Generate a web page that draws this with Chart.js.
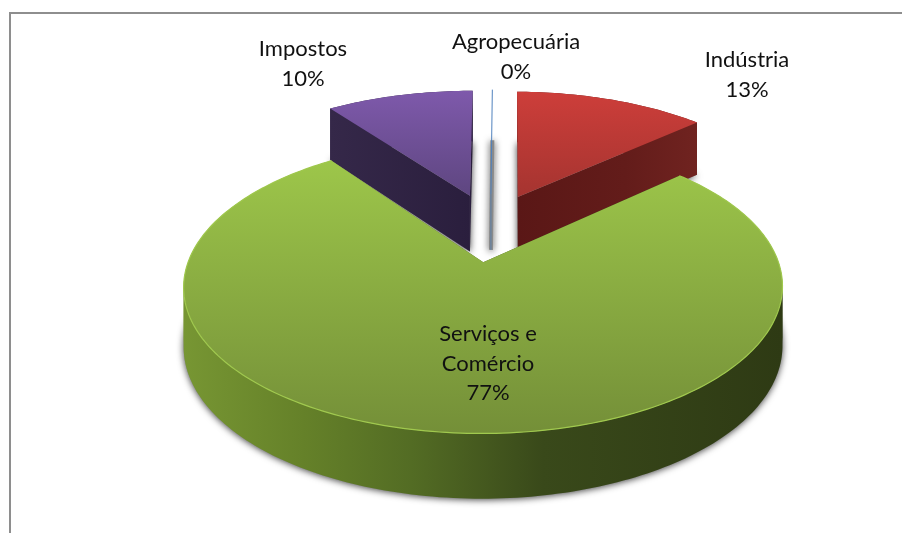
<!DOCTYPE html>
<html><head><meta charset="utf-8">
<script src="https://cdn.jsdelivr.net/npm/chart.js@4"></script>
<style>
html,body{margin:0;padding:0;background:#fff;overflow:hidden}
#frame{position:absolute;left:9px;top:12px;width:893px;height:521px;border-left:2px solid #8e8e8e;border-top:2px solid #8e8e8e;box-sizing:border-box}
canvas{position:absolute;left:0;top:0}
</style></head><body>
<div id="frame"></div>
<canvas id="c" width="902" height="533"></canvas>
<script>
const categories=['Agropecuária','Indústria','Serviços e Comércio','Impostos'];
const values=[0.2,13,77,10];
const labelLines=[['Agropecuária'],['Indústria'],['Serviços e','Comércio'],['Impostos']];
const labelCentres=[[516,42],[747,60],[488,334],[303,49]];
const topColours=[['#4f81bd','#4f81bd'],['#cd3e3a','#a53430'],['#9dc64a','#748f38'],['#7e59ab','#5e4680']];
const wallStops=[
 [[0,'#5b7fa8'],[1,'#5b7fa8']],
 [[0,'#5a1716'],[0.6,'#631c1a'],[1,'#702320']],
 [[0,'#779633'],[0.2,'#658129'],[0.38,'#536c24'],[0.6,'#39491a'],[1,'#2e3a14']],
 [[0,'#352849'],[1,'#2a1e3d']]
];
const view={cx:490.5,cy:227,A:283,B:131,k:0.16,kd:0.1,depth:57,explodeX:0.245,explodeY:0.26};

function project(X,Y,z){
 const w=1+view.k*Y;
 return [view.cx+view.A*X/w, view.cy-view.B*Y/w+z*view.depth/(1+view.kd*Y)];
}
function outline(el){
 const s=el.startAngle+Math.PI/2,e=el.endAngle+Math.PI/2,m=(s+e)/2;
 const ox=view.explodeX*Math.sin(m),oy=view.explodeY*Math.cos(m);
 const pts=[[ox,oy]];
 const n=Math.max(2,Math.ceil((e-s)/0.02));
 for(let i=0;i<=n;i++){const t=s+(e-s)*i/n;pts.push([ox+Math.sin(t),oy+Math.cos(t)]);}
 return pts;
}
function polygon(ctx,qs){
 ctx.beginPath();
 qs.forEach((q,i)=>i?ctx.lineTo(q[0],q[1]):ctx.moveTo(q[0],q[1]));
 ctx.closePath();
}
function at(pts,z){return pts.map(p=>project(p[0],p[1],z));}
function midLine(el,z){
 const m=(el.startAngle+el.endAngle)/2+Math.PI/2;
 const ox=view.explodeX*Math.sin(m),oy=view.explodeY*Math.cos(m);
 const a=project(ox,oy,z),b=project(ox+Math.sin(m),oy+Math.cos(m),z);
 return [a,b];
}
function fillBand(ctx,top,bottom){
 // split the curved wall at its leftmost and rightmost points so it never folds over itself
 const xs=top.map(q=>q[0]);
 const cuts=[0,xs.indexOf(Math.min(...xs)),xs.indexOf(Math.max(...xs)),top.length-1].sort((a,b)=>a-b);
 for(let c=0;c<cuts.length-1;c++){
  if(cuts[c+1]<=cuts[c])continue;
  polygon(ctx,top.slice(cuts[c],cuts[c+1]+1).concat(bottom.slice(cuts[c],cuts[c+1]+1).reverse()));
  ctx.fill();
 }
}
const pie3d={
 id:'pie3d',
 beforeDatasetsDraw(chart){
  const ctx=chart.ctx,arcs=chart.getDatasetMeta(0).data,paths=arcs.map(outline);
  ctx.save();
  ctx.shadowColor='rgba(0,0,0,0.75)';ctx.shadowBlur=7;ctx.shadowOffsetY=1;
  paths.forEach((p,i)=>{
   ctx.fillStyle='#8a8a8a';ctx.strokeStyle='#8a8a8a';
   if(i===0){
    const l=midLine(arcs[0],1);
    ctx.lineWidth=4;ctx.beginPath();ctx.moveTo(l[0][0],l[0][1]);ctx.lineTo(l[1][0],l[1][1]);ctx.stroke();
   }else{polygon(ctx,at(p,1));ctx.fill();}
  });
  ctx.shadowColor='transparent';ctx.shadowBlur=0;ctx.shadowOffsetY=0;
  [3,1,0,2].forEach(i=>{
   const p=paths[i];
   if(i===0){
    const l=midLine(arcs[0],0),f=midLine(arcs[0],1);
    ctx.strokeStyle='#5b7fa8';ctx.lineWidth=1;
    ctx.beginPath();ctx.moveTo(l[0][0],l[0][1]);ctx.lineTo(f[0][0],f[0][1]);ctx.stroke();
    ctx.strokeStyle='#4f81bd';
    ctx.beginPath();ctx.moveTo(l[0][0],l[0][1]);ctx.lineTo(l[1][0],l[1][1]);ctx.stroke();
    return;
   }
   const t0=at(p,0),t1=at(p,1);
   const xs=t0.map(q=>q[0]);
   const wg=ctx.createLinearGradient(Math.min(...xs),0,Math.max(...xs),0);
   wallStops[i].forEach(s=>wg.addColorStop(s[0],s[1]));
   ctx.fillStyle=wg;
   const last=p.length-1;
   polygon(ctx,[t0[0],t0[1],t1[1],t1[0]]);ctx.fill();
   polygon(ctx,[t0[0],t0[last],t1[last],t1[0]]);ctx.fill();
   fillBand(ctx,t0.slice(1),t1.slice(1));
   const ys=t0.map(q=>q[1]);
   const tg=ctx.createLinearGradient(0,Math.min(...ys),0,Math.max(...ys));
   tg.addColorStop(0,topColours[i][0]);tg.addColorStop(1,topColours[i][1]);
   polygon(ctx,t0);ctx.fillStyle=tg;ctx.fill();
   if(i===2){
    ctx.strokeStyle='#a0c94e';ctx.lineWidth=1.2;ctx.beginPath();
    t0.slice(1).forEach((q,j)=>j?ctx.lineTo(q[0],q[1]):ctx.moveTo(q[0],q[1]));
    ctx.stroke();
   }
  });
  ctx.restore();
  return false;
 },
 afterDraw(chart){
  const ctx=chart.ctx,total=values.reduce((a,b)=>a+b,0);
  ctx.save();
  ctx.font='22px Lato';ctx.fillStyle='#111';ctx.textAlign='center';ctx.textBaseline='middle';
  categories.forEach((c,i)=>{
   const lines=labelLines[i].concat([Math.round(values[i]/total*100)+'%']);
   lines.forEach((t,j)=>ctx.fillText(t,labelCentres[i][0],labelCentres[i][1]+j*29.5));
  });
  ctx.restore();
 }
};
new Chart(document.getElementById('c'),{
 type:'pie',
 data:{labels:categories,datasets:[{data:values,backgroundColor:topColours.map(c=>c[0]),borderWidth:0}]},
 options:{responsive:false,animation:false,rotation:0,
  layout:{padding:{left:62,top:27}},
  plugins:{legend:{display:false},tooltip:{enabled:false}}},
 plugins:[pie3d]
});
</script>
</body></html>
